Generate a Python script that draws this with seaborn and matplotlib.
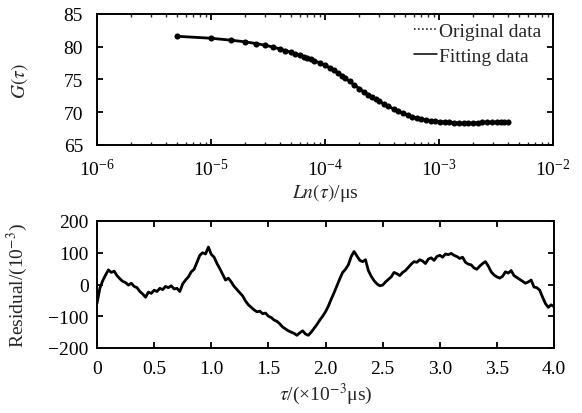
import numpy as np
import pandas as pd
import matplotlib
matplotlib.use("Agg")
import matplotlib.pyplot as plt
import seaborn as sns
from matplotlib.ticker import LogLocator, NullFormatter

# ---------------- data ----------------
# top panel: correlation function G(tau) vs tau (us)
tau_us = [5e-6, 1e-5, 1.5e-5, 2e-5, 2.5e-5, 3e-5, 3.5e-5, 4e-5, 4.5e-5, 5e-5,
          5.5e-5, 6e-5, 6.5e-5, 7e-5, 7.5e-5, 8e-5, 9e-5, 1e-4, 1.1e-4, 1.2e-4,
          1.3e-4, 1.4e-4, 1.5e-4, 1.65e-4, 1.8e-4, 2e-4, 2.2e-4, 2.4e-4, 2.6e-4,
          2.8e-4, 3e-4, 3.3e-4, 3.6e-4, 4e-4, 4.4e-4, 4.8e-4, 5.3e-4, 5.8e-4,
          6.4e-4, 7e-4, 7.7e-4, 8.5e-4, 9.3e-4, 1.02e-3, 1.12e-3, 1.23e-3,
          1.35e-3, 1.5e-3, 1.65e-3, 1.8e-3, 2e-3, 2.2e-3, 2.4e-3, 2.65e-3,
          2.9e-3, 3.2e-3, 3.5e-3, 3.75e-3, 4e-3]
g_original = [81.60, 81.30, 81.00, 80.75, 80.48, 80.22, 79.95, 79.68, 79.42, 79.18,
              78.95, 78.72, 78.50, 78.28, 78.07, 77.87, 77.55, 77.20, 76.80, 76.40,
              76.00, 75.60, 75.20, 74.70, 74.20, 73.60, 73.10, 72.70, 72.30,
              71.95, 71.65, 71.25, 70.90, 70.50, 70.15, 69.85, 69.55, 69.30,
              69.10, 68.95, 68.82, 68.72, 68.65, 68.58, 68.50, 68.45,
              68.40, 68.35, 68.32, 68.30, 68.32, 68.40, 68.45, 68.48,
              68.48, 68.47, 68.48, 68.47, 68.45]
g_fitting = list(g_original)

# bottom panel: residual (x1e-3) vs tau (x1e-3 us), sampled every 0.025
residual = [-60, -12, 12, 30, 46, 38, 42, 28, 18, 10,
            6, -2, 4, -6, -10, -22, -30, -40, -24, -28,
            -18, -22, -12, -16, -6, -10, -4, -14, -12, -22,
            2, 14, 24, 40, 48, 70, 92, 100, 96, 118,
            95, 86, 66, 50, 32, 14, 20, 8, -6, -16,
            -26, -36, -52, -64, -72, -80, -86, -84, -92, -90,
            -100, -104, -112, -116, -124, -134, -140, -146, -150, -154,
            -160, -152, -146, -156, -160, -150, -138, -126, -112, -100,
            -86, -68, -46, -26, -4, 18, 38, 48, 62, 88,
            104, 90, 76, 72, 78, 44, 26, 12, 2, -4,
            -2, 8, 16, 24, 38, 34, 28, 38, 44, 54,
            64, 72, 70, 78, 74, 66, 80, 84, 76, 88,
            92, 86, 96, 94, 98, 92, 88, 82, 86, 70,
            64, 62, 52, 48, 58, 66, 72, 58, 40, 30,
            24, 20, 26, 40, 36, 44, 28, 22, 16, 10,
            4, 8, 14, -8, -10, -18, -40, -60, -72, -64,
            -70]
res_tau = np.arange(len(residual)) * 0.025

top_ticks = [65, 70, 75, 80, 85]
bot_xticks = [0, 0.5, 1.0, 1.5, 2.0, 2.5, 3.0, 3.5, 4.0]
bot_xticklabels = ["0", "0.5", "1.0", "1.5", "2.0", "2.5", "3.0", "3.5", "4.0"]
bot_yticks = [-200, -100, 0, 100, 200]
bot_yticklabels = ["\u2212200", "\u2212100", "0", "100", "200"]

# ---------------- style ----------------
sns.set_theme(style="ticks")
plt.rcParams["font.family"] = ["Liberation Serif", "DejaVu Serif"]
plt.rcParams["mathtext.fontset"] = "stix"
plt.rcParams["axes.unicode_minus"] = True
FS = 14

fig = plt.figure(figsize=(5.82, 4.14), dpi=100)
ax1 = fig.add_axes([97 / 582, 1 - 146 / 414, 456 / 582, 131 / 414])
ax2 = fig.add_axes([97 / 582, 1 - 349 / 414, 457 / 582, 127 / 414])

df_top = pd.DataFrame({"tau": tau_us, "orig": g_original, "fit": g_fitting})
df_bot = pd.DataFrame({"tau": res_tau, "res": residual})

# top panel
sns.lineplot(data=df_top, x="tau", y="orig", ax=ax1, color="black", lw=1.0,
             ls=":", marker="o", markersize=4.4, markeredgewidth=0,
             label="Original data")
sns.lineplot(data=df_top, x="tau", y="fit", ax=ax1, color="black", lw=2.0,
             label="Fitting data")
ax1.set_xscale("log")
ax1.set_xlim(1e-6, 1e-2)
ax1.set_ylim(65, 85)
ax1.set_yticks(top_ticks)
ax1.xaxis.set_major_locator(LogLocator(base=10, numticks=10))
ax1.xaxis.set_minor_locator(LogLocator(base=10, subs=np.arange(2, 10), numticks=20))
ax1.xaxis.set_minor_formatter(NullFormatter())
ax1.set_xlabel(r"$Ln(\tau)$/μs", fontsize=FS)
ax1.set_ylabel(r"$G(\tau)$", fontsize=FS)
ax1.xaxis.set_label_coords(0.5, (146 - 182) / 131)
ax1.yaxis.set_label_coords((30 - 97) / 456, 0.5)
leg = ax1.legend(loc="upper right", bbox_to_anchor=(0.975, 0.935),
                 frameon=False, fontsize=FS, handlelength=1.2,
                 handletextpad=0.1, borderaxespad=0, labelspacing=0.38,
                 borderpad=0)
for h in leg.legend_handles:
    h.set_marker("")
    h.set_linewidth(1.1)

# bottom panel
sns.lineplot(data=df_bot, x="tau", y="res", ax=ax2, color="black", lw=2.0)
ax2.set_xlim(0, 4.0)
ax2.set_ylim(-200, 200)
ax2.set_xticks(bot_xticks)
ax2.set_xticklabels(bot_xticklabels)
ax2.set_yticks(bot_yticks)
ax2.set_yticklabels(bot_yticklabels)
ax2.set_xlabel(r"$\tau$/(×10$^{-3}$μs)", fontsize=FS)
ax2.set_ylabel(r"Residual/(10$^{-3}$)", fontsize=FS)
ax2.xaxis.set_label_coords(0.5, (349 - 382) / 127)
ax2.yaxis.set_label_coords((30 - 97) / 457, 0.5)

for ax in (ax1, ax2):
    for s in ax.spines.values():
        s.set_visible(True)
        s.set_linewidth(1.4)
        s.set_color("black")
    ax.tick_params(which="major", direction="in", top=True, right=True,
                   length=4, width=1.3, labelsize=FS, colors="black")
    ax.tick_params(which="minor", direction="in", top=True, right=True,
                   length=2.5, width=1.0)
    ax.tick_params(axis="x", which="major", pad=9)
    ax.set_facecolor("white")
ax1.tick_params(axis="y", which="major", pad=10)
ax2.tick_params(axis="y", which="major", pad=6)

fig.savefig("out.png", dpi=100, facecolor="white")
